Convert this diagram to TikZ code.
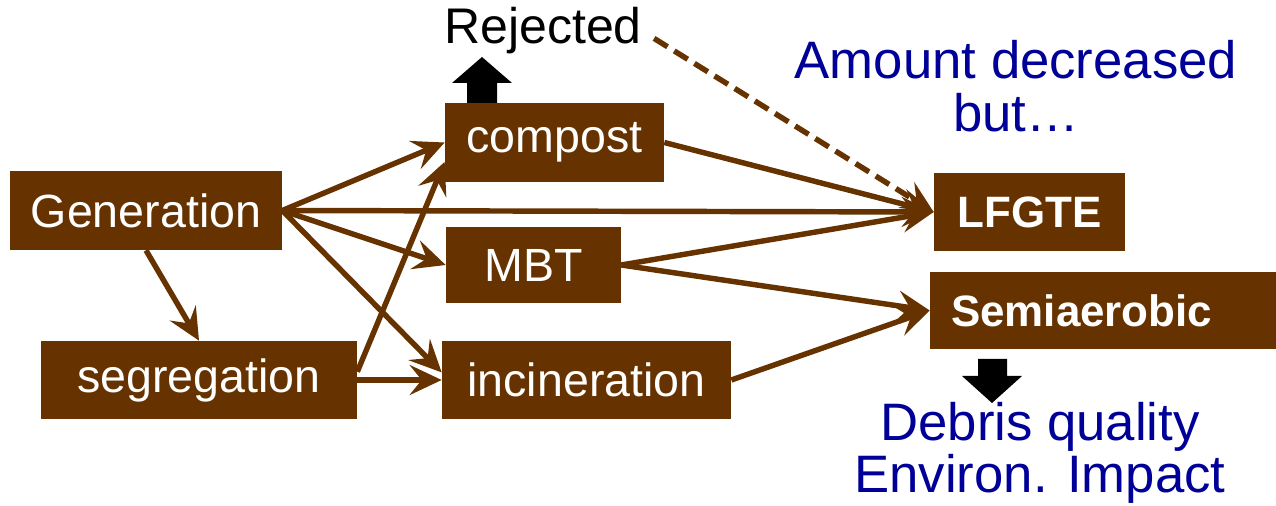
\documentclass[tikz,border=0pt]{standalone}
\usepackage{fontspec}
\setmainfont{Liberation Sans}
\usetikzlibrary{arrows.meta,calc}
\definecolor{soil}{RGB}{102,51,0}
\definecolor{note}{RGB}{0,0,153}

\begin{document}
\begin{tikzpicture}[x=0.02cm,y=-0.02cm,
    stage/.style={fill=soil,text=white,inner sep=0pt,font=\fontsize{26.5}{30}\selectfont},
    result/.style={stage,font=\bfseries\fontsize{25}{28}\selectfont},
    flow/.style={draw=soil,line width=3.1pt,-{Stealth[length=0.64cm,width=0.6cm,inset=0.24cm]}},
    remark/.style={text=note,align=center,inner sep=0pt,font=\fontsize{30}{30}\selectfont}]
  \useasboundingbox (0,0) rectangle (1276,506);

  \node[stage,minimum width=5.44cm,minimum height=1.58cm] (gen) at (146,210.5) {Generation};
  \node[stage,minimum width=6.32cm,minimum height=1.56cm] (seg) at (199,380) {segregation};
  \node[stage,minimum width=4.38cm,minimum height=1.58cm] (comp) at (554.5,142.5) {compost};
  \node[stage,minimum width=3.5cm,minimum height=1.54cm] (mbt) at (533.5,265) {MBT};
  \node[stage,minimum width=5.78cm,minimum height=1.56cm] (inc) at (586.5,380) {incineration};
  \node[result,minimum width=3.82cm,minimum height=1.56cm] (lfgte) at (1029.5,212) {LFGTE};
  \node[result,inner xsep=0.42cm,text width=6.08cm,align=left,minimum height=1.54cm] (semi) at (1103,310.5) {Semiaerobic};

  \node[inner sep=0pt,font=\fontsize{28.5}{30}\selectfont] (rej) at (543,31) {Rejected};
  \node[remark] (amount) at (1016,86) {Amount decreased\\but\ldots};
  \node[remark] (debris) at (1040,453) {Debris quality\\Environ. Impact};

  \draw[flow] (gen.south) -- (seg.north);
  \draw[flow] (gen.east) -- (comp.west);
  \draw[flow] (gen.east) -- (lfgte.west);
  \draw[flow] (gen.east) -- (mbt.west);
  \draw[flow] (gen.east) -- (inc.177);
  \draw[flow] (seg.3) -- (comp.190);
  \draw[flow] (seg.east) -- (inc.west);
  \draw[flow] (comp.east) -- (lfgte.west);
  \draw[flow] (mbt.east) -- (lfgte.west);
  \draw[flow] (mbt.east) -- (semi.west);
  \draw[flow] (inc.east) -- (semi.west);
  \draw[flow,dash pattern=on 9pt off 4.5pt,shorten <=8pt] (rej.east) -- (lfgte.west);

  \fill (467,103) -- (467,83) -- (452,83) -- (482,57) -- (512,83) -- (497,83) -- (497,103) -- cycle;
  \fill (978,359) -- (1007,359) -- (1007,376) -- (1022,376) -- (992,403) -- (962,376) -- (978,376) -- cycle;
\end{tikzpicture}
\end{document}
